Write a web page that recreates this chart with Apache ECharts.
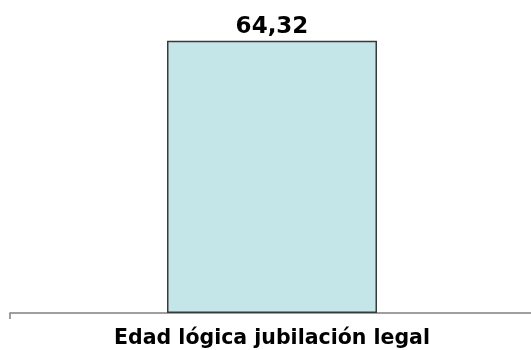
<!DOCTYPE html>
<html>
<head>
<meta charset="utf-8">
<script src="https://cdn.jsdelivr.net/npm/echarts@6/dist/echarts.min.js"></script>
<style>
  html, body { margin: 0; padding: 0; background: #ffffff; }
  #chart { width: 531px; height: 350px; }
</style>
</head>
<body>
<div id="chart"></div>
<script>
// Edad lógica de jubilación legal
const categories = ['Edad lógica jubilación legal'];
const values = [64.32];

const chart = echarts.init(document.getElementById('chart'), null, { renderer: 'canvas' });

chart.setOption({
  animation: false,
  backgroundColor: '#ffffff',
  // plot area runs past the right edge so only the left tick shows
  grid: { left: 10, right: -3, top: 16.6, bottom: 37, containLabel: false, outerBoundsMode: 'none' },
  xAxis: {
    type: 'category',
    data: categories,
    axisLine: { show: true, lineStyle: { color: '#808080', width: 1.5 } },
    axisTick: { show: true, length: 6, lineStyle: { color: '#808080', width: 1.5 } },
    axisLabel: {
      margin: 15,
      color: '#000000',
      fontFamily: 'DejaVu Sans',
      fontWeight: 'bold',
      fontSize: 20.5
    }
  },
  yAxis: {
    type: 'value',
    min: 0,
    max: 70,
    show: false,
    splitLine: { show: false }
  },
  series: [{
    type: 'bar',
    data: values,
    barWidth: 210,
    itemStyle: {
      color: '#c5e6e8',
      borderColor: '#3a3a3a',
      borderWidth: 1.5
    },
    label: {
      show: true,
      position: 'top',
      distance: 2,
      color: '#000000',
      fontFamily: 'DejaVu Sans',
      fontWeight: 'bold',
      fontSize: 23,
      formatter: p => p.value.toFixed(2).replace('.', ',')
    }
  }]
});
</script>
</body>
</html>
